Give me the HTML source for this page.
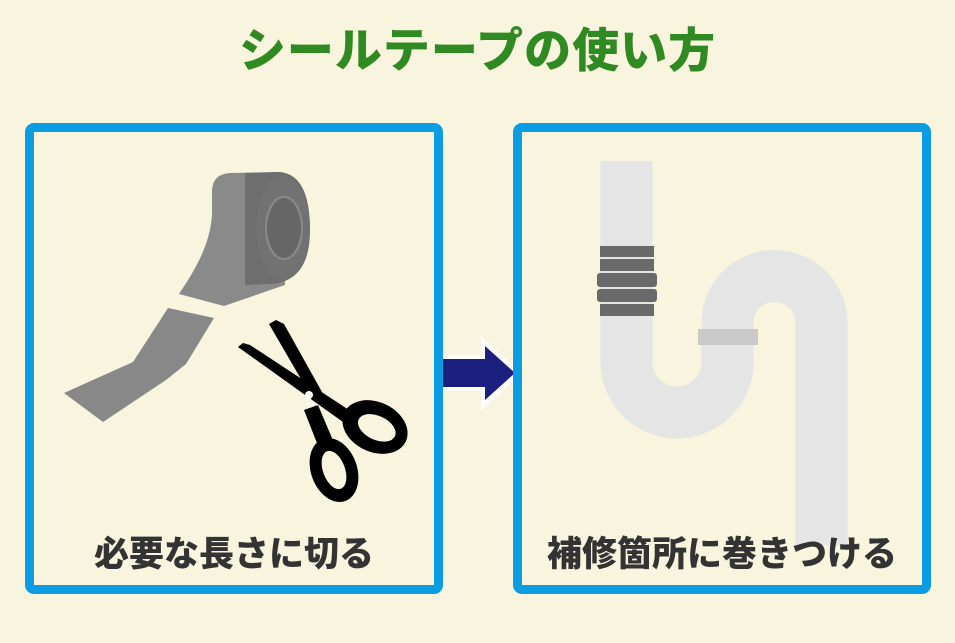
<!DOCTYPE html>
<html><head><meta charset="utf-8"><style>
body{margin:0;width:955px;height:643px;background:#f8f4dd;position:relative;overflow:hidden;font-family:"Liberation Sans","Noto Sans CJK JP",sans-serif}
.t{position:absolute;left:0;width:955px;text-align:center;top:12px;font-size:47px;font-weight:900;color:#2f8a22;letter-spacing:1px}
.box{position:absolute;top:123px;width:400px;height:453px;border:9px solid #0a9de4;border-radius:9px}
.lab{position:absolute;top:526px;font-size:35px;font-weight:900;color:#333;text-align:center}
</style></head><body>
<div class="t">シールテープの使い方</div>
<svg width="955" height="643" style="position:absolute;left:0;top:0">
<!-- tape -->
<polygon points="64,393 133,362 168,308 214,318 186,364 166,380 103,422" fill="#888"/>
<path d="M179,294 C195,270 210,245 212,215 L212,190 Q213,174 230,173 L280,172 L285,285 L224,306 Z" fill="#8a8a8a"/>
<path d="M245,173 L280,172 Q310,175 310,230 Q310,282 270,284 L245,285 Z" fill="#6e6e6e"/>
<ellipse cx="283" cy="228" rx="27" ry="52" fill="#727272"/>
<ellipse cx="284" cy="228" rx="18" ry="31" fill="#666" stroke="#8a8a8a" stroke-width="2"/>
<!-- scissors -->
<g fill="#000">
<polygon points="269,324 276,320 284,324 322,392 312,398"/>
<polygon points="238,347 243,343 250,345 352,412 343,422"/>
<circle cx="309" cy="395" r="4" fill="#fff"/>
<g transform="rotate(25 375 427)"><ellipse cx="375" cy="427" rx="34" ry="25"/><ellipse cx="377" cy="427" rx="20" ry="12" fill="#f8f4dd"/></g>
<polygon points="304,410 318,405 337,450 322,456"/>
<g transform="rotate(70 334 470)"><ellipse cx="334" cy="470" rx="33" ry="23"/><ellipse cx="334" cy="470" rx="20" ry="11" fill="#f8f4dd"/></g>
<line x1="306" y1="403" x2="318" y2="405" stroke="#fff" stroke-width="1"/>
</g>
<!-- pipe -->
<path d="M626.5,161 V362 A50.5,50.5 0 0 0 727.5,362 V323 A47,47 0 0 1 821.5,323 V545" fill="none" stroke="#e5e5e5" stroke-width="52"/>
<rect x="698" y="329" width="60" height="16" fill="#c9c9c9"/>
<g fill="#6a6a6a">
<rect x="600" y="246" width="54" height="11"/>
<rect x="600" y="259" width="54" height="12"/>
<rect x="597" y="273" width="60" height="14" rx="3"/>
<rect x="597" y="289" width="60" height="13" rx="3"/>
<rect x="600" y="304" width="54" height="12"/>
</g>
<!-- arrow -->
<polygon points="438,355 481,355 481,336 522,373 481,410 481,391 438,391" fill="#fff"/>
<polygon points="442,359 485,359 485,346 515,373 485,400 485,387 442,387" fill="#1b1f7d"/>
</svg>
<div class="box" style="left:25px"></div>
<div class="box" style="left:513px"></div>
<div class="lab" style="left:25px;width:418px">必要な長さに切る</div>
<div class="lab" style="left:513px;width:418px">補修箇所に巻きつける</div>
</body></html>
